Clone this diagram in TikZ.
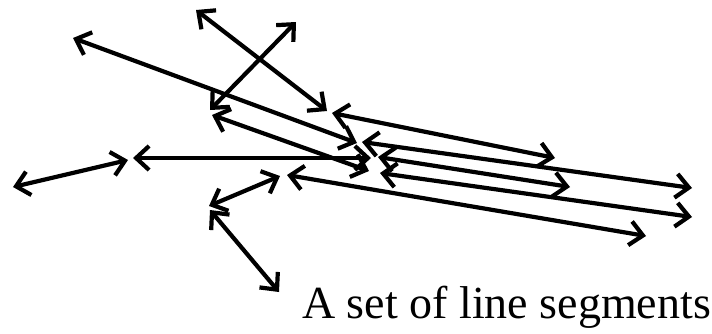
\documentclass[tikz,border=0pt]{standalone}
\usepackage{fontspec}
\setmainfont{Liberation Serif}
\usetikzlibrary{arrows.meta}
\tikzset{
  seg/.style = {{Straight Barb[length=13pt,width=24pt]}-{Straight Barb[length=13pt,width=24pt]},
                line width=4.2pt, line cap=round, line join=round},
  capt/.style = {font=\fontsize{46}{52}\selectfont, inner sep=0pt, anchor=base west}
}

\begin{document}
\begin{tikzpicture}[x=1pt, y=-1pt]
\useasboundingbox (0,0) rectangle (712,333);
% ---- the segments, end to end ----
\foreach \n/\ax/\ay/\bx/\by in {
    1/73/38/357/143,
    2/196/10/327/111,
    3/332/113/555/158,
    4/362/142/692/188,
    5/210/110/296/22,
    6/212/115/369/171,
    7/133/158/371/158,
    8/13/187/128/160,
    9/378/157/570/187,
   10/380/173/692/217,
   11/287/175/646/236,
   12/209/206/280/176,
   13/210/210/279/292}
{
  \coordinate (s\n a) at (\ax,\ay);
  \coordinate (s\n b) at (\bx,\by);
  \draw[seg] (s\n a) -- (s\n b);
}

% ---- caption ----
\node[capt] (caption) at (302,318) {A set of line segments};
\end{tikzpicture}
\end{document}
